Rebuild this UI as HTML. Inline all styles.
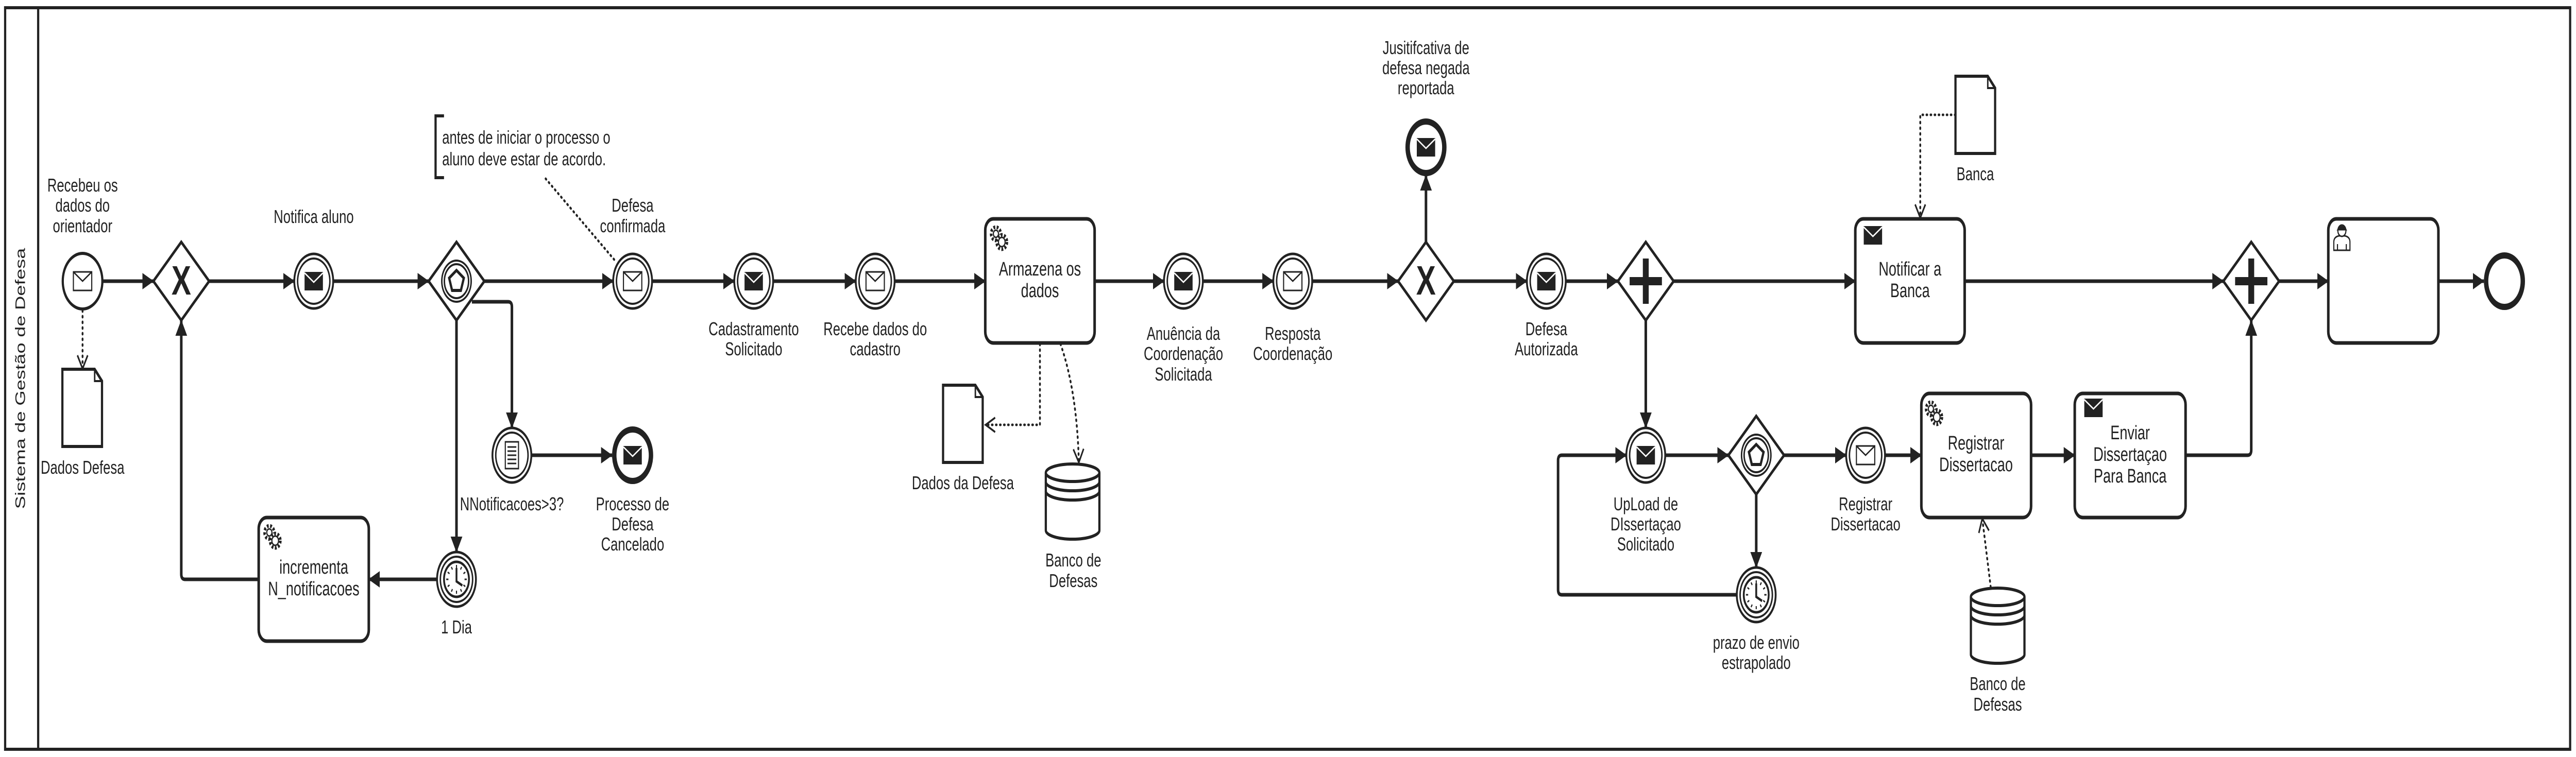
<!DOCTYPE html>
<html><head><meta charset="utf-8"><style>
html,body{margin:0;padding:0;background:#fff;width:100%;height:100%;overflow:hidden}
svg{display:block;width:100vw;height:100vh}
text{font-family:"Liberation Sans Narrow","Liberation Sans",sans-serif;font-size:36px;fill:#222;text-anchor:middle}
</style></head><body>
<svg viewBox="0 0 7020 1470" preserveAspectRatio="none" xmlns="http://www.w3.org/2000/svg">
<defs>
<marker id="a" markerUnits="userSpaceOnUse" markerWidth="34" markerHeight="34" refX="30" refY="16" orient="auto"><path d="M0,0 L31,16 L0,32 Z" fill="#222"/></marker>
<marker id="o" markerUnits="userSpaceOnUse" markerWidth="34" markerHeight="34" refX="28" refY="16" orient="auto"><path d="M2,2 L28,16 L2,30" fill="none" stroke="#222" stroke-width="4"/></marker>
<g id="envH"><rect x="-25" y="-18" width="50" height="36" fill="#fff" stroke="#222" stroke-width="3"/><path d="M-25,-18 L0,0 L25,-18" fill="none" stroke="#222" stroke-width="3"/></g>
<g id="envF"><rect x="-25" y="-18" width="50" height="36" fill="#222"/><path d="M-25,-16 L0,2 L25,-16" fill="none" stroke="#fff" stroke-width="3"/></g>
<g id="ring"><circle r="53" fill="#fff" stroke="#222" stroke-width="5"/><circle r="44" fill="none" stroke="#222" stroke-width="4"/></g>
<g id="gear" fill="none" stroke="#222" stroke-width="3">
<circle cx="-6" cy="-6" r="13" stroke-dasharray="5 4" stroke-width="7"/><circle cx="-6" cy="-6" r="7"/>
<circle cx="10" cy="10" r="15" fill="#fff" stroke="none"/>
<circle cx="10" cy="10" r="14" stroke-dasharray="5 4" stroke-width="7"/><circle cx="10" cy="10" r="9" fill="#fff"/></g>
<g id="diam"><path d="M0,-76 L76,0 L0,76 L-76,0 Z" fill="#fff" stroke="#222" stroke-width="6"/></g>
<g id="clock"><circle r="53" fill="#fff" stroke="#222" stroke-width="5"/><circle r="44" fill="none" stroke="#222" stroke-width="4"/><circle r="34" fill="none" stroke="#222" stroke-width="5"/><path d="M0,-28 V-22 M0,28 V22 M-28,0 H-22 M28,0 H22 M14,-24 L11,-19 M-14,-24 L-11,-19 M14,24 L11,19 M-14,24 L-11,19 M24,14 L19,11 M-24,14 L-19,11 M24,-14 L19,-11 M-24,-14 L-19,-11" stroke="#222" stroke-width="3"/><path d="M0,-22 V4 L16,12" fill="none" stroke="#222" stroke-width="5"/></g>
<g id="evgw"><use href="#diam"/><circle r="40" fill="none" stroke="#222" stroke-width="4"/><circle r="33" fill="none" stroke="#222" stroke-width="4"/><path d="M0,-21 L20,-6 L12,18 L-12,18 L-20,-6 Z" fill="none" stroke="#222" stroke-width="6"/></g>
</defs>

<rect x="14" y="15" width="6990" height="1440" fill="none" stroke="#222" stroke-width="6"/>
<line x1="104" y1="15" x2="104" y2="1455" stroke="#222" stroke-width="6"/>
<text x="0" y="0" transform="translate(68,735) rotate(-90)" style="font-family:'Liberation Sans',sans-serif;font-size:38px">Sistema de Gestão de Defesa</text>

<g fill="none" stroke="#222" stroke-width="7" marker-end="url(#a)">
<path d="M280,546 H418"/>
<path d="M570,546 H802"/>
<path d="M908,546 H1168"/>
<path d="M1320,546 H1671"/>
<path d="M1777,546 H2001"/>
<path d="M2107,546 H2332"/>
<path d="M2438,546 H2685"/>
<path d="M2983,546 H3172"/>
<path d="M3278,546 H3470"/>
<path d="M3576,546 H3810"/>
<path d="M3962,546 H4161"/>
<path d="M4267,546 H4409"/>
<path d="M4561,546 H5056"/>
<path d="M5354,546 H6059"/>
<path d="M6211,546 H6345"/>
<path d="M6645,546 H6769"/>
<path d="M3886,470 V340"/>
<path d="M1286,586 H1385 Q1395,586 1395,596 V831"/>
<path d="M1448,884 H1668"/>
<path d="M1244,622 V1072"/>
<path d="M1191,1125 H1005"/>
<path d="M705,1125 H504 Q494,1125 494,1115 V622"/>
<path d="M4485,622 V831"/>
<path d="M4538,884 H4710"/>
<path d="M4862,884 H5031"/>
<path d="M5137,884 H5236"/>
<path d="M4786,960 V1102"/>
<path d="M4733,1155 H4256 Q4246,1155 4246,1145 V894 Q4246,884 4256,884 H4432"/>
<path d="M5535,884 H5654"/>
<path d="M5956,884 H6125 Q6135,884 6135,874 V622"/>
</g>

<g fill="none" stroke="#222" stroke-width="5" stroke-dasharray="2 9" stroke-linecap="round">
<path d="M225,603 V716" marker-end="url(#o)"/>
<path d="M2834,668 V825 H2686" marker-end="url(#o)"/>
<path d="M2890,668 Q2935,760 2940,898" marker-end="url(#o)"/>
<path d="M5329,223 H5233 V423" marker-end="url(#o)"/>
<path d="M5425,1140 L5402,1007" marker-end="url(#o)"/>
<path d="M1487,347 L1676,506"/>
</g>

<path d="M1210,225 H1187 V345 H1210" fill="none" stroke="#222" stroke-width="6"/>
<text x="1205" y="279" style="text-anchor:start">antes de iniciar o processo o</text>
<text x="1205" y="321" style="text-anchor:start">aluno deve estar de acordo.</text>

<circle cx="225" cy="546" r="54" fill="#fff" stroke="#222" stroke-width="6"/>
<use href="#envH" x="225" y="546"/>
<text x="225" y="372">Recebeu os</text><text x="225" y="411">dados do</text><text x="225" y="451">orientador</text>

<path d="M170,717 H258 L278,740 V867 H170 Z" fill="#fff" stroke="#222" stroke-width="6"/><path d="M258,717 V740 H278" fill="none" stroke="#222" stroke-width="4"/>
<text x="225" y="920">Dados Defesa</text>
<path d="M2570,748 H2658 L2678,771 V898 H2570 Z" fill="#fff" stroke="#222" stroke-width="6"/><path d="M2658,748 V771 H2678" fill="none" stroke="#222" stroke-width="4"/>
<text x="2624" y="950">Dados da Defesa</text>
<path d="M5329,148 H5417 L5437,171 V298 H5329 Z" fill="#fff" stroke="#222" stroke-width="6"/><path d="M5417,148 V171 H5437" fill="none" stroke="#222" stroke-width="4"/>
<text x="5383" y="350">Banca</text>

<g fill="#fff" stroke="#222" stroke-width="6">
<path d="M2850,918 V1030 A73,17 0 0 0 2996,1030 V918"/><ellipse cx="2923" cy="918" rx="73" ry="17"/>
<path d="M2850,936 A73,17 0 0 0 2996,936 M2850,954 A73,17 0 0 0 2996,954" fill="none"/>
<path d="M5371,1159 V1271 A73,17 0 0 0 5517,1271 V1159"/><ellipse cx="5444" cy="1159" rx="73" ry="17"/>
<path d="M5371,1177 A73,17 0 0 0 5517,1177 M5371,1195 A73,17 0 0 0 5517,1195" fill="none"/>
</g>
<text x="2925" y="1100">Banco de</text><text x="2925" y="1140">Defesas</text>
<text x="5444" y="1340">Banco de</text><text x="5444" y="1380">Defesas</text>

<use href="#diam" x="494" y="546"/>
<text x="494" y="572" style="font-family:'Liberation Sans',sans-serif;font-size:80px;font-weight:bold">X</text>
<use href="#evgw" x="1244" y="546"/>
<use href="#diam" x="3886" y="546"/>
<text x="3886" y="572" style="font-family:'Liberation Sans',sans-serif;font-size:80px;font-weight:bold">X</text>
<use href="#diam" x="4485" y="546"/>
<path d="M4485,502 V590 M4441,546 H4529" stroke="#222" stroke-width="16"/>
<use href="#evgw" x="4786" y="884"/>
<use href="#diam" x="6135" y="546"/>
<path d="M6135,502 V590 M6091,546 H6179" stroke="#222" stroke-width="16"/>

<use href="#ring" x="855" y="546"/><use href="#envF" x="855" y="546"/>
<text x="855" y="433">Notifica aluno</text>
<use href="#ring" x="1724" y="546"/><use href="#envH" x="1724" y="546"/>
<text x="1724" y="411">Defesa</text><text x="1724" y="451">confirmada</text>
<use href="#ring" x="2054" y="546"/><use href="#envF" x="2054" y="546"/>
<text x="2054" y="651">Cadastramento</text><text x="2054" y="690">Solicitado</text>
<use href="#ring" x="2385" y="546"/><use href="#envH" x="2385" y="546"/>
<text x="2385" y="651">Recebe dados do</text><text x="2385" y="690">cadastro</text>
<use href="#ring" x="3225" y="546"/><use href="#envF" x="3225" y="546"/>
<text x="3225" y="660">Anuência da</text><text x="3225" y="699">Coordenação</text><text x="3225" y="739">Solicitada</text>
<use href="#ring" x="3523" y="546"/><use href="#envH" x="3523" y="546"/>
<text x="3523" y="660">Resposta</text><text x="3523" y="699">Coordenação</text>
<use href="#ring" x="4214" y="546"/><use href="#envF" x="4214" y="546"/>
<text x="4214" y="651">Defesa</text><text x="4214" y="690">Autorizada</text>
<use href="#ring" x="4485" y="884"/><use href="#envF" x="4485" y="884"/>
<text x="4485" y="991">UpLoad de</text><text x="4485" y="1030">DIssertaçao</text><text x="4485" y="1069">Solicitado</text>
<use href="#ring" x="5084" y="884"/><use href="#envH" x="5084" y="884"/>
<text x="5084" y="991">Registrar</text><text x="5084" y="1030">Dissertacao</text>
<use href="#ring" x="1395" y="884"/>
<rect x="1377" y="858" width="36" height="52" fill="#fff" stroke="#222" stroke-width="3"/>
<path d="M1383,868 H1407 M1383,876 H1407 M1383,884 H1407 M1383,892 H1407 M1383,900 H1407" stroke="#222" stroke-width="3"/>
<text x="1395" y="991">NNotificacoes&gt;3?</text>
<use href="#clock" x="1244" y="1125"/>
<text x="1244" y="1230">1 Dia</text>
<use href="#clock" x="4786" y="1155"/>
<text x="4786" y="1260">prazo de envio</text><text x="4786" y="1299">estrapolado</text>

<circle cx="1724" cy="884" r="50" fill="#fff" stroke="#222" stroke-width="12"/><use href="#envF" x="1724" y="884"/>
<text x="1724" y="991">Processo de</text><text x="1724" y="1030">Defesa</text><text x="1724" y="1069">Cancelado</text>
<circle cx="3886" cy="286" r="50" fill="#fff" stroke="#222" stroke-width="12"/><use href="#envF" x="3886" y="286"/>
<text x="3886" y="105">Jusitifcativa de</text><text x="3886" y="144">defesa negada</text><text x="3886" y="183">reportada</text>
<circle cx="6825" cy="546" r="50" fill="#fff" stroke="#222" stroke-width="12"/>

<g fill="#fff" stroke="#222" stroke-width="7">
<rect x="705" y="1005" width="300" height="240" rx="22"/>
<rect x="2685" y="425" width="298" height="241" rx="22"/>
<rect x="5056" y="425" width="298" height="241" rx="22"/>
<rect x="5236" y="764" width="299" height="241" rx="22"/>
<rect x="5654" y="764" width="302" height="241" rx="22"/>
<rect x="6345" y="425" width="300" height="241" rx="22"/>
</g>
<use href="#gear" x="740" y="1040"/>
<use href="#gear" x="2720" y="460"/>
<use href="#gear" x="5268" y="800"/>
<g transform="translate(5104,457)"><use href="#envF"/></g>
<g transform="translate(5705,792)"><use href="#envF"/></g>
<g transform="translate(6382,460)" fill="#fff" stroke="#222" stroke-width="3"><path d="M-22,26 V10 Q-22,0 -8,-2 H8 Q22,0 22,10 V26 Z"/><circle cx="0" cy="-12" r="11"/><path d="M-11,-14 Q0,-26 11,-14 Z" fill="#222"/><path d="M-12,14 V26 M12,14 V26"/></g>
<text x="855" y="1114" style="font-size:38px">incrementa</text><text x="855" y="1156" style="font-size:38px">N_notificacoes</text>
<text x="2834" y="535" style="font-size:38px">Armazena os</text><text x="2834" y="577" style="font-size:38px">dados</text>
<text x="5205" y="535" style="font-size:38px">Notificar a</text><text x="5205" y="577" style="font-size:38px">Banca</text>
<text x="5385" y="873" style="font-size:38px">Registrar</text><text x="5385" y="915" style="font-size:38px">Dissertacao</text>
<text x="5805" y="853" style="font-size:38px">Enviar</text><text x="5805" y="895" style="font-size:38px">Dissertaçao</text><text x="5805" y="937" style="font-size:38px">Para Banca</text>
</svg>
</body></html>
